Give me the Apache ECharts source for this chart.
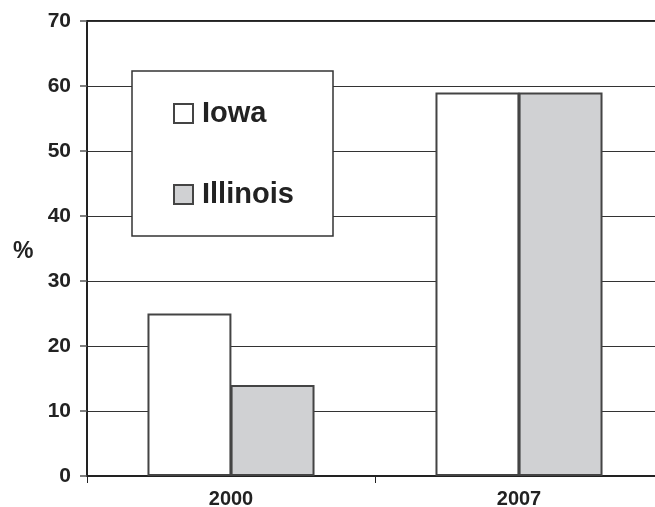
<!DOCTYPE html>
<html><head><meta charset="utf-8">
<script src="https://cdn.jsdelivr.net/npm/echarts@6/dist/echarts.min.js"></script>
<style>html,body{margin:0;padding:0;background:#fff;overflow:hidden}#c{width:655px;height:507px}</style>
</head><body><div id="c"></div>
<script>
const categories = ['2000', '2007'];
const iowa = [25, 59];
const illinois = [14, 59];
const yTicks = [0, 10, 20, 30, 40, 50, 60, 70];
const seriesNames = ['Iowa', 'Illinois'];

const font = 'Liberation Sans, Arial, sans-serif';
const chart = echarts.init(document.getElementById('c'), null, {renderer: 'canvas'});
chart.setOption({
  animation: false,
  backgroundColor: '#fff',
  grid: {left: 87, width: 576, top: 21, bottom: 31, outerBoundsMode: 'none', containLabel: false, show: true, borderColor: '#222', borderWidth: 2, backgroundColor: 'transparent'},
  title: {text: '%', left: 8, top: 235, textStyle: {fontFamily: font, fontWeight: 'bold', fontSize: 23, color: '#222'}},
  graphic: [{type: 'rect', shape: {x: 132, y: 71, width: 201, height: 165}, style: {fill: '#fff', stroke: '#333', lineWidth: 1.5}, z: 10}],
  legend: {
    orient: 'vertical', left: 168, top: 94, itemWidth: 19, itemHeight: 19, itemGap: 52, z: 20,
    icon: 'rect',
    textStyle: {fontFamily: font, fontWeight: 'bold', fontSize: 29, color: '#222', padding: [0, 0, 0, 4]},
    data: seriesNames
  },
  xAxis: {
    type: 'category', data: categories,
    axisLine: {lineStyle: {color: '#222', width: 2}},
    axisTick: {show: true, length: 7, lineStyle: {color: '#222', width: 1}},
    axisLabel: {fontFamily: font, fontWeight: 'bold', fontSize: 20, color: '#222', margin: 13},
    splitLine: {show: false}
  },
  yAxis: {
    type: 'value', min: yTicks[0], max: yTicks[yTicks.length - 1], interval: 10,
    axisLine: {show: true, lineStyle: {color: '#222', width: 2}},
    axisTick: {show: true, length: 7, lineStyle: {color: '#555', width: 1.5}},
    axisLabel: {fontFamily: font, fontWeight: 'bold', fontSize: 21, color: '#222', margin: 16},
    splitLine: {show: true, lineStyle: {color: '#333', width: 1.2}}
  },
  series: [
    {name: seriesNames[0], type: 'bar', data: iowa, barGap: '-1%', barCategoryGap: '42%',
     itemStyle: {color: '#ffffff', borderColor: '#444', borderWidth: 2}},
    {name: seriesNames[1], type: 'bar', data: illinois,
     itemStyle: {color: '#d0d1d3', borderColor: '#444', borderWidth: 2}}
  ]
});
</script></body></html>
